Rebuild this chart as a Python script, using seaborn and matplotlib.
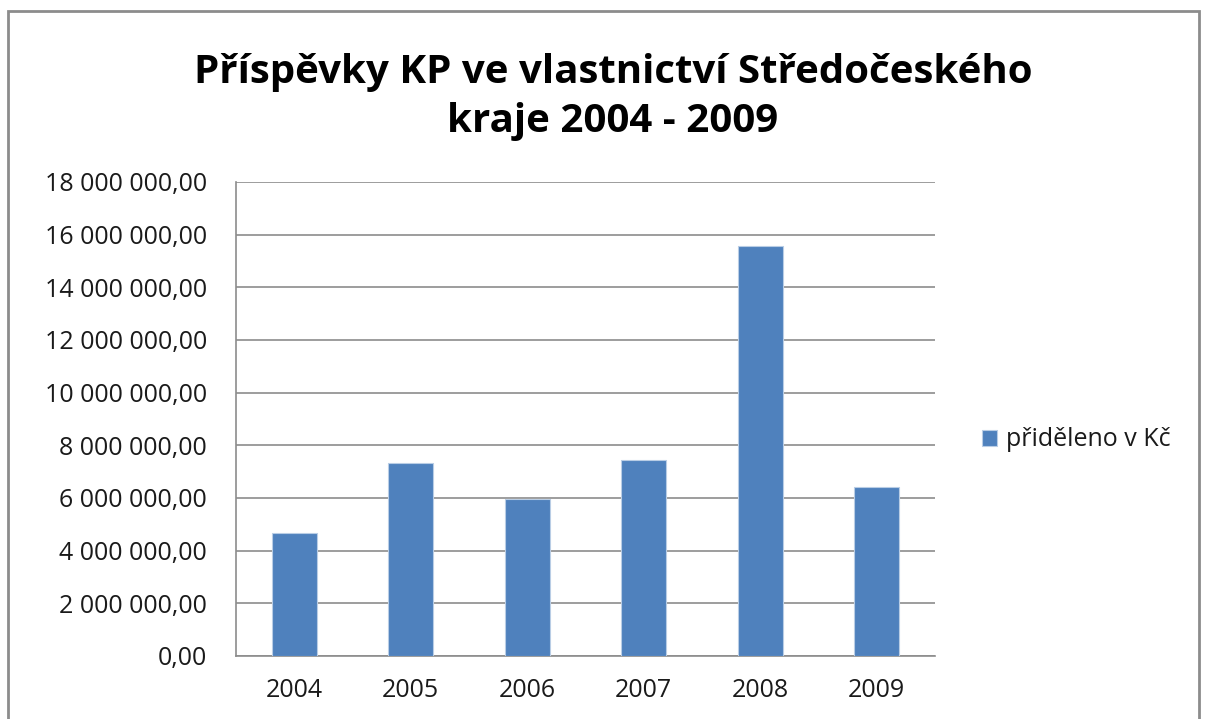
import matplotlib
matplotlib.use("Agg")
import matplotlib.pyplot as plt
import matplotlib.patches as mpatches
from matplotlib.ticker import FuncFormatter, FixedLocator
import seaborn as sns
import pandas as pd
import numpy as np

years = ["2004", "2005", "2006", "2007", "2008", "2009"]
values = [4670000, 7340000, 5980000, 7440000, 15570000, 6400000]
series_name = "přiděleno v Kč"
title = "Příspěvky KP ve vlastnictví Středočeského\nkraje 2004 - 2009"

sns.set_theme(style="white")
plt.rcParams['font.family'] = ['Open Sans', 'DejaVu Sans']

df = pd.DataFrame({"rok": years, "hodnota": values, "serie": series_name})

W, H = 1206, 719
fig = plt.figure(figsize=(W/100, H/100), dpi=100)
ax = fig.add_axes([236/W, 1-656/H, (935-236)/W, (656-182)/H])

sns.barplot(data=df, x="rok", y="hodnota", hue="serie", palette=["#4F81BD"],
            width=0.39, ax=ax, edgecolor="#B9CDE5", linewidth=0.8, saturation=1, zorder=3)

ax.set_ylim(0, 18000000)
ax.set_xlim(-0.5, 5.5)
ax.set_yticks(np.arange(0, 18000001, 2000000))

def fmt(v, pos):
    s = f"{int(round(v)):,}".replace(",", " ")
    return s + ",00"
ax.yaxis.set_major_formatter(FuncFormatter(fmt))
ax.grid(axis="y", color="#8C8C8C", linewidth=1.2, zorder=0)
ax.set_axisbelow(True)
for s in ["top", "right"]:
    ax.spines[s].set_visible(False)
for s in ["left", "bottom"]:
    ax.spines[s].set_color("#8C8C8C")
    ax.spines[s].set_linewidth(1.2)
ax.tick_params(axis="y", which="major", length=7, width=1.2, color="#8C8C8C", direction="out",
               labelsize=18, labelcolor="#1a1a1a", pad=14)
ax.tick_params(axis="x", which="major", length=0, labelsize=18, labelcolor="#1a1a1a", pad=16)
ax.xaxis.set_minor_locator(FixedLocator(np.arange(-0.5, 6, 1.0)))
ax.tick_params(axis="x", which="minor", length=7, width=1.2, color="#8C8C8C", direction="out")
ax.set_xlabel("")
ax.set_ylabel("")

leg = ax.legend(loc="center left", bbox_to_anchor=(982/W, 1-440/H), bbox_transform=fig.transFigure,
                frameon=False, fontsize=18, handlelength=0.6, handleheight=0.6, handletextpad=0.35,
                borderaxespad=0, borderpad=0)
for t in leg.get_texts():
    t.set_color("#1a1a1a")

fig.text(0.5 + 10/W, 1-97/H, title, ha="center", va="center", fontsize=29, fontweight="bold",
         color="black", linespacing=1.35)

# chart border
fig.patches.append(mpatches.Rectangle((8/W, -0.05), (1199-8)/W, 1.05 - 11/H, transform=fig.transFigure,
                                      fill=False, edgecolor="#8C8C8C", linewidth=2))

fig.savefig("out.png", dpi=100, facecolor="white")
